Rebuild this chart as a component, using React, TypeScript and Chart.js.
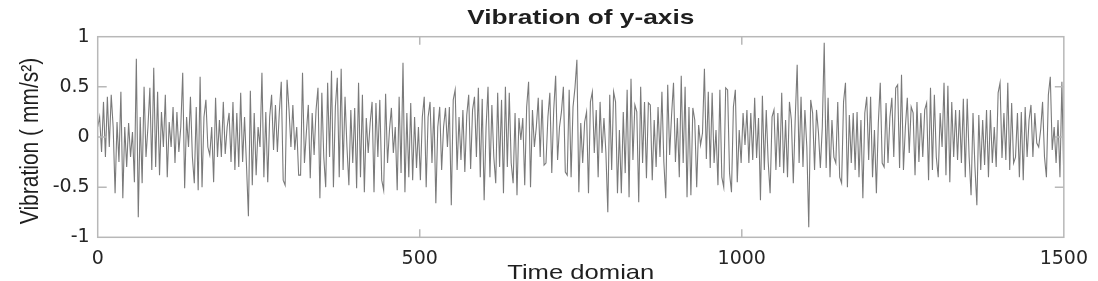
import React, { useEffect, useRef } from "react";
import { Chart, registerables } from "chart.js";

Chart.register(...registerables);

const chartTitle = "Vibration of y-axis";
const xAxisTitle = "Time domian";
const yAxisTitle = "Vibration ( mm/s²)";
const xTickValues = [0, 500, 1000, 1500];
const xTickLabels = ["0", "500", "1000", "1500"];
const yTickValues = [-1, -0.5, 0, 0.5, 1];
const yTickLabels = ["-1", "-0.5", "0", "0.5", "1"];
const sampleStep = 3;

// vibration samples (every 3rd time step)
const vibA = [
  0.1, 0.2, -0.15, 0.35, -0.2, 0.4, -0.1, 0.42, 0.1, -0.56,
  0.15, -0.25, 0.45, -0.61, 0.1, -0.3, 0.14, -0.2, 0.05, -0.45,
  0.78, -0.8, 0.2, -0.46, 0.5, -0.2, 0.1, 0.49, -0.33, 0.69,
  -0.3, 0.45, -0.38, 0.25, -0.1, 0.42, -0.4, 0.15, -0.1, 0.3,
  -0.26, 0.25, -0.15, 0.1, 0.64, -0.51, 0.2, -0.1, 0.4, -0.2,
  -0.46, 0.3, -0.53, 0.6, -0.5, 0.2, 0.37, -0.1, -0.18, 0.1,
  -0.45, 0.39, -0.2, 0.17, -0.2, 0.35, -0.17, 0.1, 0.24, -0.25,
  0.35, -0.33, 0.24, -0.3, 0.44, -0.25, 0.2, -0.28, -0.79, 0.46,
  -0.48, 0.24, -0.38, 0.1, -0.1, 0.64, -0.4, 0.25, -0.45, 0.2,
  0.42, -0.13, 0.32, -0.15, 0.25, 0.55, -0.43, -0.48, 0.57, 0.28,
];
const vibB = [
  -0.1, 0.32, -0.13, 0.1, -0.38, -0.38, 0.64, -0.26, 0.05, 0.32,
  -0.41, 0.24, -0.18, 0.27, 0.49, -0.61, 0.44, -0.2, -0.5, 0.54,
  -0.2, 0.66, -0.5, 0.3, 0.59, -0.4, 0.68, -0.33, 0.4, -0.1,
  -0.48, 0.27, -0.26, 0.29, -0.51, 0.54, -0.4, 0.42, -0.55, 0.19,
  -0.16, 0.14, 0.35, -0.55, 0.34, -0.2, 0.37, -0.43, -0.53, 0.43,
  -0.26, 0.07, 0.29, -0.16, 0.1, -0.53, 0.4, -0.36, 0.74, -0.55,
  0.24, -0.4, 0.34, -0.43, 0.2, -0.31, 0.1, -0.43, 0.2, 0.4,
  -0.5, 0.2, 0.35, -0.26, 0.3, -0.66, 0.1, 0.3, -0.33, 0.1,
  0.29, -0.1, 0.3, -0.68, 0.37, 0.47, -0.33, 0.2, -0.23, 0.27,
  -0.35, 0.22, 0.42, -0.32, 0.27, 0.4, -0.2, 0.49, -0.4, 0.38,
];
const vibC = [
  -0.63, 0.1, 0.5, -0.4, 0.32, -0.2, -0.46, 0.44, -0.3, 0.37,
  -0.56, 0.5, -0.3, 0.44, -0.26, -0.46, 0.24, -0.58, 0.19, -0.03,
  0.19, -0.48, 0.3, 0.55, -0.5, 0.27, -0.1, 0.1, 0.39, -0.2,
  0.37, -0.28, -0.26, 0.2, 0.44, -0.36, 0.27, 0.61, -0.23, 0.1,
  0.25, 0.5, -0.35, -0.38, 0.47, -0.4, 0.3, 0.49, 0.77, -0.55,
  0.14, -0.26, 0.15, 0.25, -0.56, 0.35, 0.45, -0.16, 0.27, -0.4,
  0.35, -0.16, 0.19, -0.15, -0.75, 0.42, -0.33, 0.45, 0.35, -0.56,
  0.07, -0.56, 0.25, -0.36, 0.47, -0.6, 0.58, -0.23, 0.32, 0.25,
  -0.65, 0.5, -0.26, 0.35, -0.41, 0.34, 0.32, -0.43, 0.17, -0.3,
  0.3, -0.2, 0.45, -0.25, -0.61, 0.52, -0.18, 0.22, 0.54, -0.25,
];
const vibD = [
  0.19, -0.4, 0.61, -0.26, 0.5, -0.6, 0.3, -0.58, 0.29, 0.17,
  -0.5, 0.12, -0.08, 0.04, 0.68, -0.22, 0.45, -0.31, 0.44, -0.26,
  0.07, -0.48, 0.47, -0.4, -0.5, 0.49, 0.47, -0.36, -0.55, 0.3,
  0.47, -0.45, 0.07, -0.26, 0.24, -0.08, 0.27, -0.26, 0.24, -0.23,
  0.39, -0.21, 0.19, -0.63, 0.41, -0.33, 0.27, -0.25, -0.56, 0.2,
  0.27, -0.33, 0.24, -0.3, 0.44, -0.36, 0.17, -0.4, 0.35, 0.17,
  -0.46, 0.19, 0.72, -0.26, 0.4, -0.3, 0.27, -0.1, -0.9, 0.37,
  0.24, -0.33, 0.27, 0.05, -0.31, 0.1, 0.94, -0.31, 0.39, -0.4,
  0.17, -0.2, -0.26, 0.35, -0.4, -0.46, 0.35, 0.54, -0.5, 0.22,
  -0.26, 0.24, -0.33, 0.25, -0.4, 0.17, -0.61, 0.24, 0.4, -0.23,
];
const vibE = [
  0.4, -0.4, 0.07, -0.56, 0.14, 0.54, -0.26, -0.3, 0.34, -0.26,
  0.2, 0.39, -0.2, 0.49, 0.52, -0.31, 0.62, -0.33, 0.1, 0.39,
  -0.16, 0.3, 0.24, -0.38, 0.35, -0.25, 0.24, -0.2, 0.27, 0.34,
  -0.43, 0.49, -0.33, 0.42, -0.2, -0.4, 0.24, -0.1, 0.54, -0.38,
  0.51, -0.45, 0.35, -0.2, 0.27, -0.23, 0.27, -0.26, 0.38, -0.4,
  0.38, -0.2, -0.58, 0.24, -0.3, -0.68, 0.22, -0.33, 0.17, -0.28,
  0.27, -0.4, 0.27, -0.26, 0.1, -0.3, 0.44, 0.54, -0.21, 0.24,
  -0.23, 0.54, -0.33, 0.34, -0.26, -0.2, 0.24, -0.4, 0.25, -0.43,
  0.3, -0.2, 0.17, 0.32, -0.2, 0.24, -0.06, -0.1, 0.07, 0.35,
  -0.2, -0.4, 0.42, 0.6, -0.13, 0.1, -0.26, 0.17, -0.4, 0.55,
  -0.43,
];

const vibration = [...vibA, ...vibB, ...vibC, ...vibD, ...vibE];

const frameColor = "#b8b8b8";
const textColor = "#1f1f1f";

function drawStretched(
  ctx: CanvasRenderingContext2D,
  text: string,
  x: number,
  y: number,
  font: string,
  sx: number,
  vertical: boolean
) {
  ctx.save();
  ctx.translate(x, y);
  ctx.scale(sx, 1);
  if (vertical) ctx.rotate(-Math.PI / 2);
  ctx.font = font;
  ctx.fillStyle = textColor;
  ctx.textAlign = "center";
  ctx.textBaseline = "alphabetic";
  ctx.fillText(text, 0, 0);
  ctx.restore();
}

const framePlugin = {
  id: "matlabFrame",
  afterDraw(chart: any) {
    const { ctx, chartArea } = chart;
    const xs = chart.scales.x;
    const ys = chart.scales.y;
    const { left, right, top, bottom } = chartArea;
    ctx.save();
    ctx.strokeStyle = frameColor;
    ctx.lineWidth = 1.5;
    ctx.strokeRect(left, top, right - left, bottom - top);
    ctx.beginPath();
    xTickValues.slice(1, -1).forEach((v) => {
      const px = xs.getPixelForValue(v);
      ctx.moveTo(px, bottom);
      ctx.lineTo(px, bottom - 8);
      ctx.moveTo(px, top);
      ctx.lineTo(px, top + 8);
    });
    yTickValues.slice(1, -1).forEach((v) => {
      const py = ys.getPixelForValue(v);
      ctx.moveTo(left, py);
      ctx.lineTo(left + 9, py);
      ctx.moveTo(right, py);
      ctx.lineTo(right - 9, py);
    });
    ctx.stroke();
    ctx.restore();

    const cx = (left + right) / 2;
    drawStretched(ctx, chartTitle, cx, 24, 'bold 21px "Liberation Sans"', 1.25, false);
    drawStretched(ctx, xAxisTitle, cx, 279, '21px "Liberation Sans"', 1.22, false);
    drawStretched(ctx, yAxisTitle, 38.3, (top + bottom) / 2 + 4, '21px "Liberation Sans"', 1.22, true);
  },
};

export default function App() {
  const canvasRef = useRef<HTMLCanvasElement | null>(null);

  useEffect(() => {
    const canvas = canvasRef.current;
    if (!canvas) return;
    const points = vibration.map((v, k) => ({ x: k * sampleStep, y: v }));
    const chart = new Chart(canvas, {
      type: "line",
      data: {
        datasets: [
          {
            data: points,
            borderColor: "#7a7a7a",
            borderWidth: 1.1,
            pointRadius: 0,
            tension: 0,
            fill: false,
          },
        ],
      },
      options: {
        animation: false,
        responsive: false,
        devicePixelRatio: 1,
        events: [],
        layout: { padding: { top: 36.7, right: 32, left: 0, bottom: 0 } },
        plugins: {
          legend: { display: false },
          tooltip: { enabled: false },
          title: { display: false },
        },
        scales: {
          x: {
            type: "linear",
            min: xTickValues[0],
            max: xTickValues[xTickValues.length - 1],
            grid: { display: false, drawTicks: false },
            border: { display: false },
            afterBuildTicks: (scale: any) => {
              scale.ticks = xTickValues.map((v) => ({ value: v }));
            },
            afterFit: (scale: any) => {
              scale.height = 43.7;
            },
            ticks: {
              autoSkip: false,
              maxRotation: 0,
              padding: 10,
              color: "#262626",
              font: { family: '"DejaVu Sans"', size: 19 },
              callback: (_v: any, i: number) => xTickLabels[i],
            },
          },
          y: {
            type: "linear",
            min: yTickValues[0],
            max: yTickValues[yTickValues.length - 1],
            grid: { display: false, drawTicks: false },
            border: { display: false },
            afterBuildTicks: (scale: any) => {
              scale.ticks = yTickValues.map((v) => ({ value: v }));
            },
            afterFit: (scale: any) => {
              scale.width = 97.7;
            },
            ticks: {
              autoSkip: false,
              padding: 8,
              color: "#262626",
              font: { family: '"DejaVu Sans"', size: 19 },
              callback: (_v: any, i: number) => yTickLabels[i],
            },
          },
        },
      },
      plugins: [framePlugin],
    });
    return () => chart.destroy();
  }, []);

  return (
    <div style={{ position: "fixed", left: 0, top: 0, width: 1098, height: 281, background: "#fff" }}>
      <canvas ref={canvasRef} width={1098} height={281} style={{ display: "block" }} />
    </div>
  );
}
